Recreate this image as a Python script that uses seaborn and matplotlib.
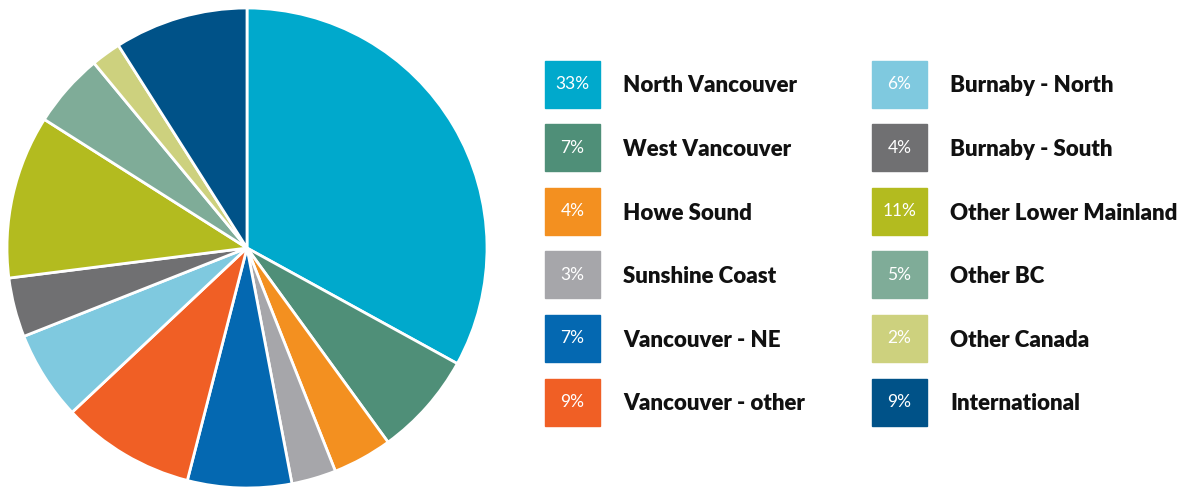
import matplotlib.pyplot as plt
import seaborn as sns
from matplotlib.patches import Rectangle

# Estilo
sns.set_theme(style="white")
plt.rcParams['font.family'] = ['Lato', 'DejaVu Sans']

# Dados
regioes = ['North Vancouver', 'West Vancouver', 'Howe Sound', 'Sunshine Coast',
           'Vancouver - NE', 'Vancouver - other', 'Burnaby - North', 'Burnaby - South',
           'Other Lower Mainland', 'Other BC', 'Other Canada', 'International']
percentuais = [33, 7, 4, 3, 7, 9, 6, 4, 11, 5, 2, 9]
cores = ['#00A9CC', '#4F8F78', '#F39020', '#A6A6AA', '#0468B1', '#F05F25',
         '#7FC9DF', '#707072', '#B3BB1F', '#7FAC98', '#CDD17E', '#005288']

W, H = 1195, 487
fig = plt.figure(figsize=(W / 100, H / 100), dpi=100)

# Pizza
cx, cy, r = 247, 248, 240
ax = fig.add_axes([(cx - r) / W, (H - cy - r) / H, 2 * r / W, 2 * r / H])
ax.pie(percentuais, colors=cores, startangle=90, counterclock=False, radius=1,
       wedgeprops=dict(edgecolor='white', linewidth=2))
ax.set_xlim(-1.0, 1.0)
ax.set_ylim(-1.0, 1.0)
ax.set_aspect('equal')
ax.axis('off')

# Legenda em duas colunas
lg = fig.add_axes([0, 0, 1, 1])
lg.set_xlim(0, W)
lg.set_ylim(H, 0)
lg.axis('off')

col_x = [545, 872]
topo, passo, lado_w, lado_h = 84, 63.6, 55, 47
for i, (nome, pct, cor) in enumerate(zip(regioes, percentuais, cores)):
    col, lin = divmod(i, 6)
    x0 = col_x[col]
    yc = topo + lin * passo
    lg.add_patch(Rectangle((x0, yc - lado_h / 2), lado_w, lado_h, color=cor))
    lg.text(x0 + lado_w / 2, yc, f'{pct}%', color='white', fontsize=12.5,
            ha='center', va='center')
    lg.text(x0 + 78, yc + 2, nome, color='#111111', fontsize=16, fontweight='heavy',
            ha='left', va='center')

fig.savefig('out.png', dpi=100, facecolor='white')
